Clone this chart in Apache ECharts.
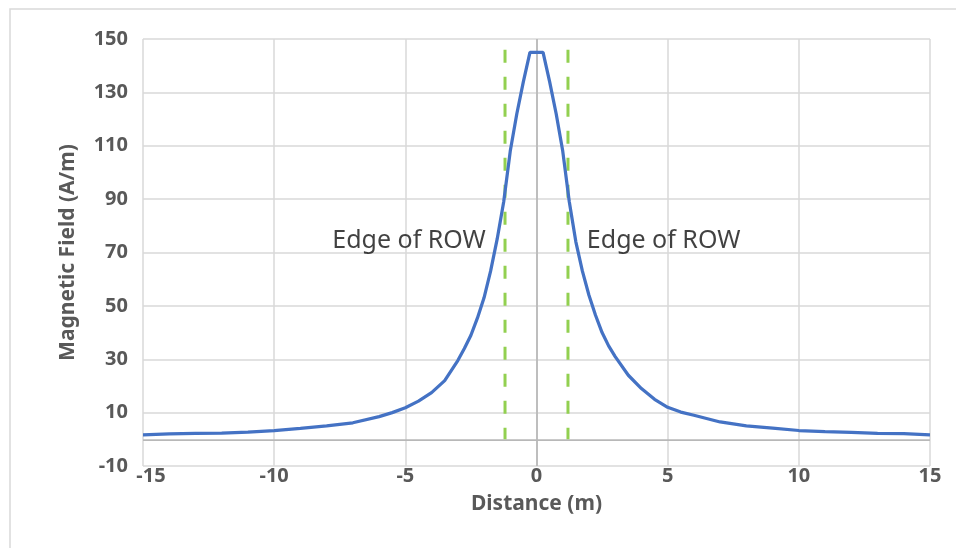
<!DOCTYPE html>
<html>
<head>
<meta charset="utf-8">
<script src="https://cdn.jsdelivr.net/npm/echarts@6/dist/echarts.min.js"></script>
<style>
html,body{margin:0;padding:0;background:#fff;}
#c{width:956px;height:548px;}
</style>
</head>
<body>
<div id="c"></div>
<script>
// Distance (m)
var distances = [-15,-14,-13,-12,-11,-10,-9,-8,-7,-6,-5.5,-5,-4.5,-4,-3.5,-3,-2.75,-2.5,-2.25,-2,-1.75,-1.5,-1.25,-1,-0.75,-0.5,-0.25,0,0.25,0.5,0.75,1,1.25,1.5,1.75,2,2.25,2.5,2.75,3,3.5,4,4.5,5,5.5,6,7,8,9,10,11,12,13,14,15];
// Magnetic Field (A/m)
var fieldValues = [1.7,2.0,2.2,2.3,2.7,3.3,4.1,5.0,6.2,8.5,10.0,11.8,14.3,17.5,22,29.5,34,39,45.5,53,63,75,89,108,122,134,145,145,145,134,122,108,89,74,63,54,46.5,40,35,31,24,19,15,12,10.2,9,6.5,5,4.2,3.3,2.9,2.6,2.2,2.1,1.7];
// Edge of right-of-way markers
var rowEdges = [-1.2, 1.2];
var rowLineRange = [146, 0];
var annotationText = 'Edge of ROW';
var xTicks = {min: -15, max: 15, interval: 5};
var yTicks = {min: -10, max: 150, interval: 20};

var chart = echarts.init(document.getElementById('c'), null, {renderer: 'canvas'});
var lineData = distances.map(function (d, i) { return [d, fieldValues[i]]; });
var gray = '#595959';
var labelFont = {fontFamily: 'Noto Sans', fontWeight: 'bold', fontSize: 20, color: gray};

var series = [{
  type: 'line',
  data: lineData,
  showSymbol: false,
  symbol: 'none',
  lineStyle: {color: '#4472C4', width: 3.25},
  z: 5,
  markLine: {
    silent: true,
    symbol: ['none', 'none'],
    label: {show: false},
    lineStyle: {color: '#b8b8b8', width: 1.75, type: 'solid'},
    data: [{xAxis: 0}, {yAxis: 0}],
    z: 1
  }
}];
rowEdges.forEach(function (e) {
  series.push({
    type: 'line',
    data: rowLineRange.map(function (v) { return [e, v]; }),
    symbol: 'none',
    lineStyle: {color: '#92D050', width: 3, type: [13, 14]},
    z: 4
  });
});
series.push({
  type: 'scatter',
  symbolSize: 0,
  data: [
    {value: [-1.93, 74.5], label: {align: 'right'}},
    {value: [1.92, 74.5], label: {align: 'left'}}
  ],
  label: {
    show: true,
    position: 'inside',
    formatter: annotationText,
    fontFamily: 'Noto Sans',
    fontSize: 25,
    color: '#111',
    verticalAlign: 'middle'
  },
  z: 6
});

chart.setOption({
  animation: false,
  backgroundColor: '#fff',
  grid: {left: 143, right: 26, top: 39, bottom: 82},
  graphic: [{
    type: 'rect',
    shape: {x: 10, y: 9, width: 1000, height: 1000},
    style: {fill: 'none', stroke: '#d9d9d9', lineWidth: 1.5},
    silent: true
  }],
  xAxis: {
    type: 'value',
    min: xTicks.min, max: xTicks.max, interval: xTicks.interval,
    name: 'Distance (m)',
    nameLocation: 'middle',
    nameGap: 28,
    nameTextStyle: {fontFamily: 'Noto Sans', fontWeight: 'bold', fontSize: 21, color: gray, verticalAlign: 'top'},
    axisLine: {show: false},
    axisTick: {show: false},
    splitLine: {show: true, lineStyle: {color: '#d9d9d9', width: 1.5}},
    axisLabel: Object.assign({
      margin: 0,
      formatter: function (v) { return v === xTicks.min ? '{p|' + v + '}' : String(v); },
      rich: {p: {padding: [0, 0, 0, 16], fontFamily: 'Noto Sans', fontWeight: 'bold', fontSize: 20, color: gray}}
    }, labelFont)
  },
  yAxis: {
    type: 'value',
    min: yTicks.min, max: yTicks.max, interval: yTicks.interval,
    name: 'Magnetic Field (A/m)',
    nameLocation: 'middle',
    nameGap: 64,
    nameTextStyle: {fontFamily: 'Noto Sans', fontWeight: 'bold', fontSize: 21, color: gray},
    axisLine: {show: false},
    axisTick: {show: false},
    splitLine: {show: true, lineStyle: {color: '#d9d9d9', width: 1.5}},
    axisLabel: Object.assign({margin: 15}, labelFont)
  },
  series: series
});
</script>
</body>
</html>
